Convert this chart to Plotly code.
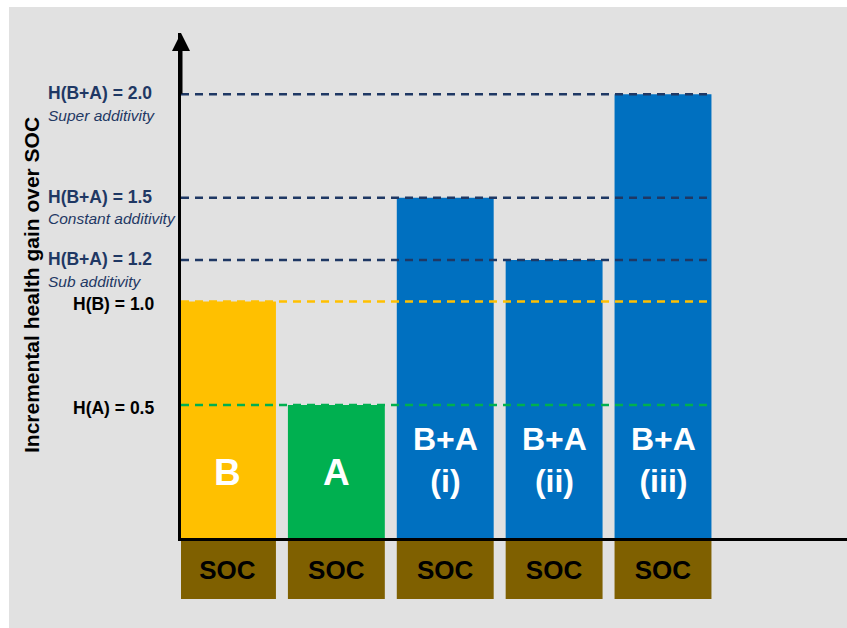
import plotly.graph_objects as go

# ---- data -------------------------------------------------------------
categories = ["B", "A", "B+A (i)", "B+A (ii)", "B+A (iii)"]
bar_labels = ["B", "A", "B+A<br>(i)", "B+A<br>(ii)", "B+A<br>(iii)"]
health_gain = [1.0, 0.5, 1.5, 1.2, 2.0]
base_labels = ["SOC", "SOC", "SOC", "SOC", "SOC"]

ref_values = [2.0, 1.5, 1.2, 1.0, 0.5]
ref_labels = ["H(B+A) = 2.0", "H(B+A) = 1.5", "H(B+A) = 1.2", "H(B) = 1.0", "H(A) = 0.5"]
ref_notes = ["Super additivity", "Constant additivity", "Sub additivity", "", ""]

# ---- style ------------------------------------------------------------
FONT = "Arial, 'Liberation Sans', sans-serif"
NAVY = "#1F3864"
bar_colors = ["#FFC000", "#00B050", "#0070C0", "#0070C0", "#0070C0"]
ref_colors = [NAVY, NAVY, NAVY, "#FFC000", "#00B050"]
label_colors = [NAVY, NAVY, NAVY, "#000000", "#000000"]
SOC_COLOR = "#7F6000"
PANEL = "#E1E1E1"

W, H = 847, 628
BAR_WIDTH = 0.89
X_MIN, X_MAX = -0.427, 5.69
Y_FLOOR, Y_TOP = -0.141, 2.295
X_LINE_END = len(categories) - 1 + BAR_WIDTH / 2

fig = go.Figure()

# main bars, drawn up from the axis floor to each health value
fig.add_trace(go.Bar(
    x=categories,
    y=[v - Y_FLOOR for v in health_gain],
    base=Y_FLOOR,
    width=BAR_WIDTH,
    marker=dict(color=bar_colors, line=dict(width=0)),
    hoverinfo="skip",
    showlegend=False,
    xaxis="x", yaxis="y",
))

# SOC blocks underneath each bar
fig.add_trace(go.Bar(
    x=categories,
    y=[1] * len(categories),
    width=BAR_WIDTH,
    marker=dict(color=SOC_COLOR, line=dict(width=0)),
    text=["<b>%s</b>" % s for s in base_labels],
    textposition="inside",
    insidetextanchor="middle",
    textangle=0,
    textfont=dict(family=FONT, size=26, color="#000000"),
    constraintext="none",
    hoverinfo="skip",
    showlegend=False,
    xaxis="x", yaxis="y2",
))

shapes = [
    # grey backdrop panel
    dict(type="rect", xref="paper", yref="paper", x0=9 / W, x1=1, y0=0, y1=1 - 7 / H,
         fillcolor=PANEL, line=dict(width=0), layer="below"),
]
annotations = []

# dashed reference levels with their labels
for val, lab, note, col, tcol in zip(ref_values, ref_labels, ref_notes, ref_colors, label_colors):
    shapes.append(dict(type="line", xref="x", yref="y", x0=X_MIN, x1=X_LINE_END, y0=val, y1=val,
                       line=dict(color=col, width=2.5, dash="8px,6px"), layer="above"))
    if note:
        annotations.append(dict(xref="paper", yref="y", x=46 / W, y=val, yshift=1,
                                xanchor="left", yanchor="middle", showarrow=False,
                                text="<b>%s</b>" % lab,
                                font=dict(family=FONT, size=17.5, color=tcol)))
        annotations.append(dict(xref="paper", yref="y", x=46 / W, y=val, yshift=-21,
                                xanchor="left", yanchor="middle", showarrow=False,
                                text="<i>%s</i>" % note,
                                font=dict(family=FONT, size=15.5, color=tcol)))
    else:
        annotations.append(dict(xref="paper", yref="y", x=156 / W, y=val, yshift=-3,
                                xanchor="right", yanchor="middle", showarrow=False,
                                text="<b>%s</b>" % lab,
                                font=dict(family=FONT, size=17.5, color=tcol)))

# white labels inside the bars
for cat, lab in zip(categories, bar_labels):
    two_line = "<br>" in lab
    annotations.append(dict(xref="x", yref="y", x=cat, y=Y_FLOOR,
                            yshift=78 if two_line else 66,
                            xanchor="center", yanchor="middle", showarrow=False,
                            text="<b>%s</b>" % lab,
                            font=dict(family=FONT, size=32 if two_line else 37, color="white")))

# arrow head on the vertical axis
annotations.append(dict(xref="x", yref="y", axref="x", ayref="y",
                        x=X_MIN, y=Y_TOP, ax=X_MIN, ay=Y_TOP - 0.3,
                        text="", showarrow=True, arrowhead=2, arrowsize=1.2,
                        arrowwidth=3, arrowcolor="black"))

# vertical axis title
annotations.append(dict(xref="paper", yref="paper", x=31 / W, y=1 - 285 / H,
                        xanchor="center", yanchor="middle", showarrow=False, textangle=-90,
                        text="<b>Incremental health gain over SOC</b>",
                        font=dict(family=FONT, size=21, color="black")))

fig.update_layout(
    width=W, height=H,
    margin=dict(l=0, r=0, t=0, b=0),
    paper_bgcolor="white",
    plot_bgcolor="rgba(0,0,0,0)",
    barmode="overlay",
    xaxis=dict(domain=[181 / W, 1], range=[X_MIN, X_MAX], anchor="y",
               showline=True, linecolor="black", linewidth=3,
               showticklabels=False, ticks="", showgrid=False, zeroline=False,
               fixedrange=True),
    yaxis=dict(domain=[1 - 538 / H, 1 - 33 / H], range=[Y_FLOOR, Y_TOP], anchor="x",
               showline=True, linecolor="black", linewidth=3,
               showticklabels=False, ticks="", showgrid=False, zeroline=False,
               fixedrange=True),
    yaxis2=dict(domain=[1 - 599 / H, 1 - 541 / H], range=[0, 1], anchor="x",
                showline=False, showticklabels=False, ticks="", showgrid=False,
                zeroline=False, fixedrange=True),
    shapes=shapes,
    annotations=annotations,
    showlegend=False,
)

fig.write_html("out.html")
